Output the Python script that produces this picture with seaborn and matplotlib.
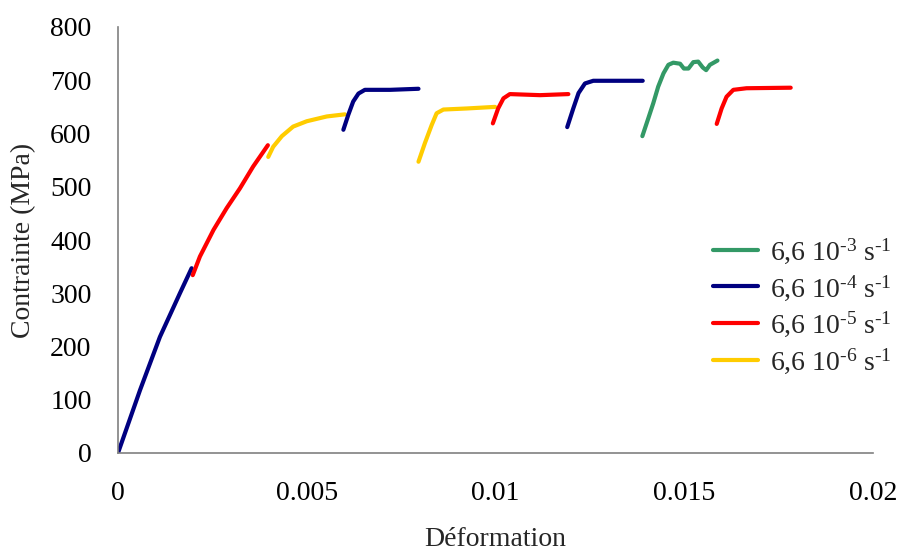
import matplotlib
matplotlib.use('Agg')
import matplotlib.pyplot as plt
import seaborn as sns
from matplotlib.lines import Line2D

# segments, strain / stress (MPa)
blue_1_x = [0, 0.000583, 0.00111, 0.00164, 0.00195]
blue_1_y = [0, 118, 218, 300, 347]
red_1_x = [0.00198, 0.00217, 0.00253, 0.00288, 0.00323, 0.00358, 0.00397]
red_1_y = [334, 369, 419, 460, 497, 538, 578]
yellow_1_x = [0.00398, 0.00411, 0.00434, 0.00464, 0.005, 0.00553, 0.00601]
yellow_1_y = [556, 575, 595, 613, 623, 632, 636]
blue_2_x = [0.00597, 0.0061, 0.00623, 0.00637, 0.00654, 0.00721, 0.00796]
blue_2_y = [607, 635, 660, 675, 682, 682, 684]
yellow_2_x = [0.00796, 0.00813, 0.00831, 0.00844, 0.00862, 0.00924, 0.00999]
yellow_2_y = [547, 582, 616, 638, 645, 647, 650]
red_2_x = [0.00993, 0.01007, 0.01021, 0.01038, 0.01118, 0.01193]
red_2_y = [619, 647, 666, 674, 672, 674]
blue_3_x = [0.0119, 0.01206, 0.0122, 0.01237, 0.01259, 0.0133, 0.0139]
blue_3_y = [612, 647, 676, 694, 699, 699, 699]
green_1_x = [0.01389, 0.01405, 0.01418, 0.01431, 0.01445, 0.01458, 0.01471, 0.01489,
             0.01499, 0.01511, 0.01524, 0.01537, 0.01549, 0.01558, 0.01568, 0.01588]
green_1_y = [595, 629, 657, 688, 713, 729, 733, 731, 722, 722, 734, 735, 724, 719, 729, 737]
red_3_x = [0.01586, 0.01599, 0.01612, 0.0163, 0.01665, 0.01782]
red_3_y = [618, 647, 669, 682, 685, 686]

rates = [r'6,6 10$^{\text{-}3}$ s$^{\text{-}1}$', r'6,6 10$^{\text{-}4}$ s$^{\text{-}1}$',
         r'6,6 10$^{\text{-}5}$ s$^{\text{-}1}$', r'6,6 10$^{\text{-}6}$ s$^{\text{-}1}$']
colors = ['#339966', '#000080', '#ff0000', '#ffcc00']

sns.set_style('white')
plt.rcParams['font.family'] = ['Liberation Serif', 'DejaVu Serif']
plt.rcParams['mathtext.fontset'] = 'custom'
plt.rcParams['mathtext.rm'] = 'Liberation Serif'
plt.rcParams['mathtext.default'] = 'regular'

fig = plt.figure(figsize=(9.01, 5.53), dpi=100)
ax = fig.add_axes([118/901, 1 - 453/553, 755/901, 426/553])

segments = [
    (blue_1_x, blue_1_y, colors[1]),
    (red_1_x, red_1_y, colors[2]),
    (yellow_1_x, yellow_1_y, colors[3]),
    (blue_2_x, blue_2_y, colors[1]),
    (yellow_2_x, yellow_2_y, colors[3]),
    (red_2_x, red_2_y, colors[2]),
    (blue_3_x, blue_3_y, colors[1]),
    (green_1_x, green_1_y, colors[0]),
    (red_3_x, red_3_y, colors[2]),
]
for xs, ys, c in segments:
    sns.lineplot(x=xs, y=ys, color=c, lw=3, sort=False, estimator=None,
                 solid_capstyle='round', solid_joinstyle='round', ax=ax)

ax.set_xlim(0, 0.02)
ax.set_ylim(0, 800)
ax.set_xticks([0, 0.005, 0.01, 0.015, 0.02])
ax.set_xticklabels(['0', '0.005', '0.01', '0.015', '0.02'])
ax.set_yticks(range(0, 801, 100))

for s in ['top', 'right']:
    ax.spines[s].set_visible(False)
for s in ['left', 'bottom']:
    ax.spines[s].set_color('#808080')
    ax.spines[s].set_linewidth(1.2)
ax.tick_params(axis='both', direction='out', length=5, width=1, color='#808080',
               labelsize=20, pad=14, labelcolor='black')
ax.tick_params(axis='x', length=6)

ax.set_xlabel('Déformation', fontsize=20, labelpad=15)
ax.set_ylabel('Contrainte (MPa)', fontsize=20, labelpad=10)

handles = [Line2D([], [], color=c, lw=3) for c in colors]
ax.legend(handles, rates, loc='center left', bbox_to_anchor=(0.788, 0.345),
          frameon=False, fontsize=20, handlelength=1.62, handletextpad=0.43,
          labelspacing=0.25, borderaxespad=0, borderpad=0)

fig.savefig('out.png', dpi=100)
